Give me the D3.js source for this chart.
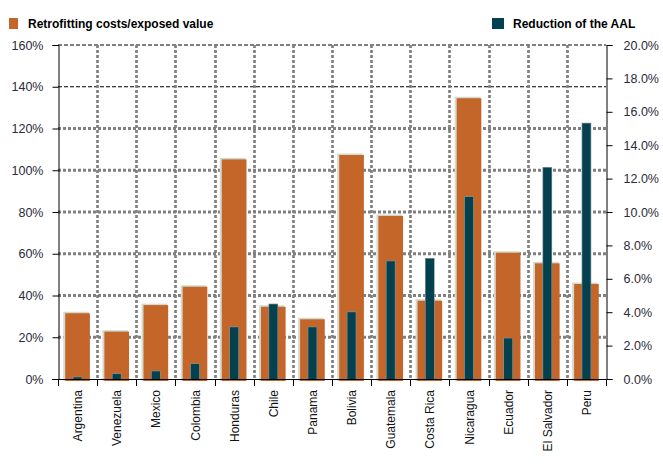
<!DOCTYPE html>
<html><head><meta charset="utf-8">
<script src="https://cdn.jsdelivr.net/npm/d3@7"></script>
<style>body{margin:0;background:#fff;} text{font-family:"Liberation Sans",Arial,sans-serif;}</style>
</head><body>
<svg id="c" width="663" height="466"></svg>
<script>
const categories = ["Argentina","Venezuela","Mexico","Colombia","Honduras","Chile","Panama","Bolivia","Guatemala","Costa Rica","Nicaragua","Ecuador","El Salvador","Peru"];
const retrofitCost = [31.5,22.7,35.4,44.2,105.2,34.6,28.6,107.3,78.1,37.5,134.5,60.5,55.4,45.5];
const aalReduction = [0.1,0.3,0.46,0.9,3.1,4.47,3.1,4.0,7.05,7.2,10.9,2.43,12.65,15.3];
const leftTicks = [0,20,40,60,80,100,120,140,160];
const rightTicks = [0,2,4,6,8,10,12,14,16,18,20];
const seriesNames = ["Retrofitting costs/exposed value","Reduction of the AAL"];
const colors = ["#c4662a","#04414f"];

const svg = d3.select("#c");
const L = 58, R = 606, T = 45, B = 379;
const x = d3.scaleBand().domain(categories).range([L, R]);
const yL = d3.scaleLinear().domain([0,160]).range([B, T]);
const yR = d3.scaleLinear().domain([0,20]).range([B, T]);

// horizontal grid
leftTicks.filter(d => d > 0).forEach(d => {
  const top = d >= 140;
  svg.append("line").attr("x1", L).attr("x2", R).attr("y1", yL(d)).attr("y2", yL(d))
    .attr("stroke", top ? "#000" : "#808080")
    .attr("stroke-width", top ? 1 : 3)
    .attr("stroke-dasharray", top ? "4,2" : "3,2");
});
// vertical grid at category boundaries
categories.slice(1).forEach(c => {
  const xx = Math.round(x(c)) + 0.5;
  svg.append("line").attr("x1", xx).attr("x2", xx).attr("y1", T).attr("y2", B)
    .attr("stroke", "#808080").attr("stroke-width", 2.7).attr("stroke-dasharray", "3,2");
});

const bw = x.bandwidth();
const ow = bw * 0.63, dw = bw * 0.21;
// orange bars with shadow
const g = svg.append("g");
g.selectAll("rect.sh").data(categories).join("rect")
  .attr("x", (d) => x(d) + (bw - ow) / 2 - 2)
  .attr("y", (d,i) => yL(retrofitCost[i]) - 1.5)
  .attr("width", ow + 1).attr("height", (d,i) => B + 2 - yL(retrofitCost[i]) + 1.5)
  .attr("fill", "#d3dbd0");
g.selectAll("rect.o").data(categories).join("rect")
  .attr("x", (d) => x(d) + (bw - ow) / 2)
  .attr("y", (d,i) => yL(retrofitCost[i]))
  .attr("width", ow).attr("height", (d,i) => B + 2 - yL(retrofitCost[i]))
  .attr("fill", colors[0]);
// dark bars
g.selectAll("rect.sd").data(categories).join("rect")
  .attr("x", (d) => x(d) + (bw - dw) / 2 - 0.7)
  .attr("y", (d,i) => yR(aalReduction[i]) - 0.7)
  .attr("width", dw + 1.4).attr("height", (d,i) => B - yR(aalReduction[i]) + 0.7)
  .attr("fill", "#7d8f96");
g.selectAll("rect.d").data(categories).join("rect")
  .attr("x", (d) => x(d) + (bw - dw) / 2)
  .attr("y", (d,i) => yR(aalReduction[i]))
  .attr("width", dw).attr("height", (d,i) => B - yR(aalReduction[i]))
  .attr("fill", colors[1]);

// axes
const leftAxis = d3.axisLeft(yL).tickValues(leftTicks).tickFormat(d => d + "%").tickSize(6).tickPadding(9);
const la = svg.append("g").attr("transform", `translate(${L + 0.5},0)`).call(leftAxis);
const rightAxis = d3.axisRight(yR).tickValues(rightTicks).tickFormat(d => d.toFixed(1) + "%").tickSize(6).tickPadding(11);
const ra = svg.append("g").attr("transform", `translate(${R + 0.5},0)`).call(rightAxis);
[la, ra].forEach(a => {
  a.select(".domain").attr("stroke", "#000");
  a.selectAll(".tick line").attr("stroke", "#000");
  a.selectAll("text").attr("font-size", 12.5).attr("fill", "#2a2a3a").attr("font-family", '"Liberation Sans",Arial,sans-serif');
});
// bottom axis
svg.append("line").attr("x1", L).attr("x2", R + 6).attr("y1", B + 0.5).attr("y2", B + 0.5).attr("stroke", "#000");
svg.append("line").attr("x1", L - 6).attr("x2", L).attr("y1", B + 0.5).attr("y2", B + 0.5).attr("stroke", "#000");
const bounds = categories.map(c => x(c)).concat([R]);
bounds.forEach(b => {
  const xx = Math.round(b) + 0.5;
  svg.append("line").attr("x1", xx).attr("x2", xx).attr("y1", B).attr("y2", B + 7).attr("stroke", "#000");
});
svg.selectAll("text.cat").data(categories).join("text")
  .attr("transform", d => `translate(${x(d) + bw / 2 + 4.5},${B + 11}) rotate(-90)`)
  .attr("text-anchor", "end").attr("font-size", 12).attr("fill", "#111")
  .text(d => d);

// legend
svg.append("rect").attr("x", 9).attr("y", 18).attr("width", 9).attr("height", 11).attr("fill", colors[0]);
svg.append("text").attr("x", 28).attr("y", 28).attr("font-size", 12).attr("font-weight", "bold").text(seriesNames[0]);
svg.append("rect").attr("x", 492).attr("y", 18).attr("width", 12).attr("height", 11).attr("fill", colors[1]);
svg.append("text").attr("x", 513).attr("y", 28).attr("font-size", 12).attr("font-weight", "bold").text(seriesNames[1]);
</script>
</body></html>
